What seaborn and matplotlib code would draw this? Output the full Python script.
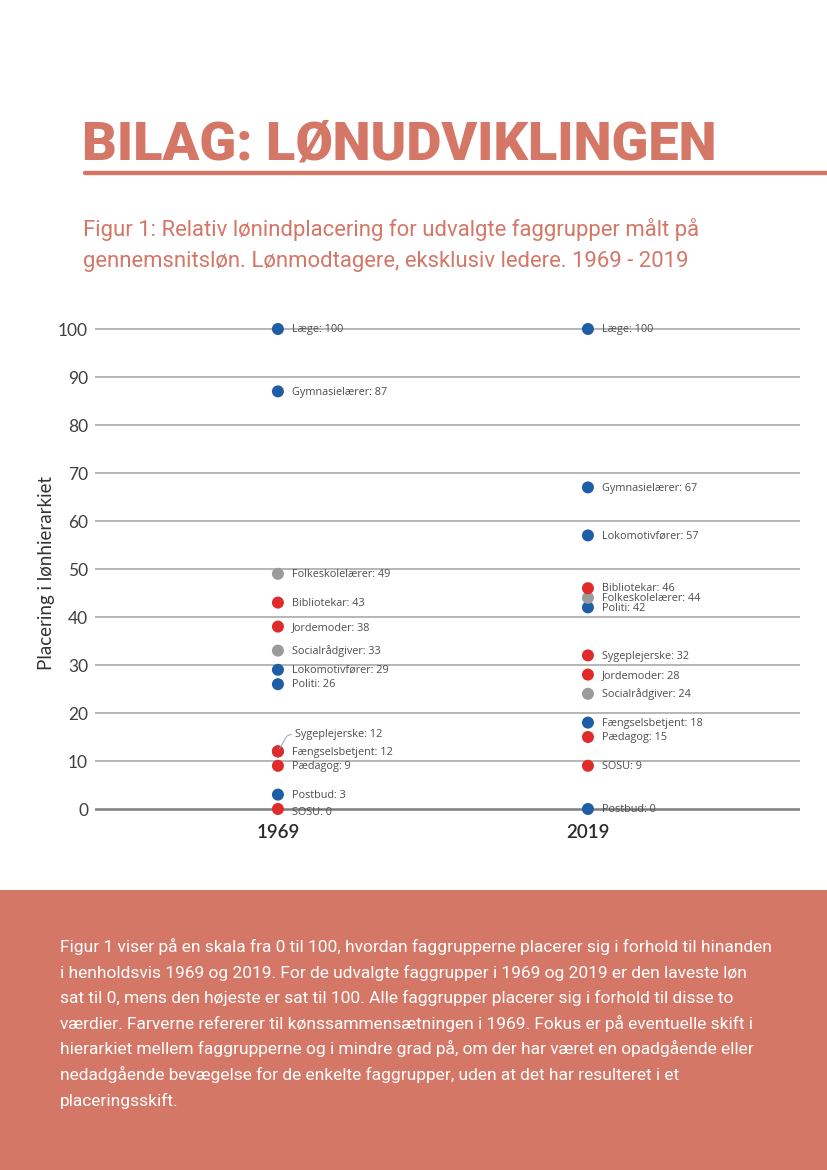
import matplotlib
matplotlib.use("Agg")
import matplotlib.pyplot as plt
from matplotlib.lines import Line2D
from matplotlib.patches import Rectangle
import seaborn as sns
import pandas as pd

# ---------------- data ----------------
groups = ["Læge", "Gymnasielærer", "Folkeskolelærer", "Bibliotekar", "Jordemoder",
          "Socialrådgiver", "Lokomotivfører", "Politi", "Sygeplejerske",
          "Fængselsbetjent", "Pædagog", "Postbud", "SOSU"]
gender = ["Mænd", "Mænd", "Blandet", "Kvinder", "Kvinder", "Blandet", "Mænd",
          "Mænd", "Kvinder", "Mænd", "Kvinder", "Mænd", "Kvinder"]
rank_1969 = [100, 87, 49, 43, 38, 33, 29, 26, 12, 12, 9, 3, 0]
rank_2019 = [100, 67, 44, 46, 28, 24, 57, 42, 32, 18, 15, 0, 9]
years = ["1969", "2019"]
y_ticks = [0, 10, 20, 30, 40, 50, 60, 70, 80, 90, 100]

title = "BILAG: LØNUDVIKLINGEN"
subtitle = ["Figur 1: Relativ lønindplacering for udvalgte faggrupper målt på",
            "gennemsnitsløn. Lønmodtagere, eksklusiv ledere. 1969 - 2019"]
ylabel = "Placering i lønhierarkiet"
paragraph = [
    "Figur 1 viser på en skala fra 0 til 100, hvordan faggrupperne placerer sig i forhold til hinanden",
    "i henholdsvis 1969 og 2019. For de udvalgte faggrupper i 1969 og 2019 er den laveste løn",
    "sat til 0, mens den højeste er sat til 100. Alle faggrupper placerer sig i forhold til disse to",
    "værdier. Farverne refererer til kønssammensætningen i 1969. Fokus er på eventuelle skift i",
    "hierarkiet mellem faggrupperne og i mindre grad på, om der har været en opadgående eller",
    "nedadgående bevægelse for de enkelte faggrupper, uden at det har resulteret i et",
    "placeringsskift.",
]

# ---------------- styling ----------------
SALMON = "#d57767"
palette = {"Mænd": "#1f5ea6", "Kvinder": "#e02b2b", "Blandet": "#9b9b9b"}

rows = []
for yr, vals in zip(years, [rank_1969, rank_2019]):
    for g, s, v in zip(groups, gender, vals):
        rows.append({"år": yr, "faggruppe": g, "køn": s, "placering": v})
df = pd.DataFrame(rows)

sns.set_theme(style="white")
plt.rcParams["font.family"] = ["Lato", "DejaVu Sans"]

fig = plt.figure(figsize=(8.27, 11.7), dpi=100)
W, H = 827, 1170

def fx(px):
    return px / W

def fy(py):
    return 1 - py / H

# header
fig.text(fx(82), fy(160), title, fontsize=39, fontweight="heavy",
         family=["Roboto", "DejaVu Sans"], color=SALMON, va="baseline", ha="left")
fig.add_artist(Line2D([fx(85), 1.0], [fy(172.5), fy(172.5)], color=SALMON,
                      linewidth=3.2, solid_capstyle="round"))
for i, line in enumerate(subtitle):
    fig.text(fx(83), fy(236 + 31 * i), line, fontsize=15.9, fontweight="normal",
             family=["Roboto", "DejaVu Sans"], color=SALMON, va="baseline", ha="left")

# chart
ax = fig.add_axes([fx(95), fy(818.6), (800 - 95) / W, (818.6 - 319.4) / H])
for gy in y_ticks:
    ax.axhline(gy, color="#7f7f7f" if gy == 0 else "#a9a9a9",
               linewidth=1.8 if gy == 0 else 1.2, zorder=0)

# draw order so red overlays blue where they collide
order = {"Mænd": 0, "Blandet": 1, "Kvinder": 2}
df_sorted = df.assign(o=df["køn"].map(order)).sort_values("o")
sns.scatterplot(data=df_sorted, x="år", y="placering", hue="køn", palette=palette,
                s=75, edgecolor="none", legend=False, ax=ax, zorder=3)

label_offsets = {("1969", "Sygeplejerske"): (12, 12),
                 ("1969", "SOSU"): (10, -2.5)}
xpos = {yr: i for i, yr in enumerate(years)}
for _, r in df.iterrows():
    key = (r["år"], r["faggruppe"])
    txt = f"{r['faggruppe']}: {r['placering']}"
    dx, dy = label_offsets.get(key, (10, -0.5))
    if key == ("1969", "Sygeplejerske"):
        ax.annotate(txt, xy=(xpos[r["år"]], r["placering"]), xytext=(dx, dy),
                    textcoords="offset points", fontsize=7.8, color="#4d4d4d",
                    family=["Open Sans", "DejaVu Sans"], va="center", ha="left",
                    arrowprops=dict(arrowstyle="-", color="#8aa6a6", lw=0.7,
                                    shrinkA=0, shrinkB=2,
                                    connectionstyle="angle,angleA=0,angleB=60,rad=3"))
    else:
        ax.annotate(txt, xy=(xpos[r["år"]], r["placering"]), xytext=(dx, dy),
                    textcoords="offset points", fontsize=7.8, color="#4d4d4d",
                    family=["Open Sans", "DejaVu Sans"], va="center", ha="left")

ax.set_xlim(-0.59, 1.684)
ax.set_ylim(-2, 102)
ax.set_yticks(y_ticks)
ax.set_yticklabels([str(t) for t in y_ticks])
ax.set_xticks([0, 1])
ax.set_xticklabels(years)
ax.tick_params(axis="y", length=0, pad=5, labelsize=12.5, labelcolor="#404040")
ax.tick_params(axis="x", length=0, pad=4, labelsize=13.5, labelcolor="#2b2b2b")
for lab in ax.get_xticklabels():
    lab.set_fontweight("semibold")
ax.set_xlabel("")
ax.set_ylabel("")
for sp in ax.spines.values():
    sp.set_visible(False)
ax.set_facecolor("none")

fig.text(fx(47), fy(573), ylabel, rotation=90, fontsize=13.5, color="#333333",
         ha="center", va="center")

# bottom box
fig.add_artist(Rectangle((0, 0), 1, fy(890), transform=fig.transFigure,
                         facecolor=SALMON, edgecolor="none", zorder=0))
for i, line in enumerate(paragraph):
    fig.text(fx(60), fy(952 + 25.6 * i), line, fontsize=12.5, fontweight="normal",
             family=["Roboto", "DejaVu Sans"], color="white", va="baseline", ha="left")

fig.savefig("out.png", dpi=100)
